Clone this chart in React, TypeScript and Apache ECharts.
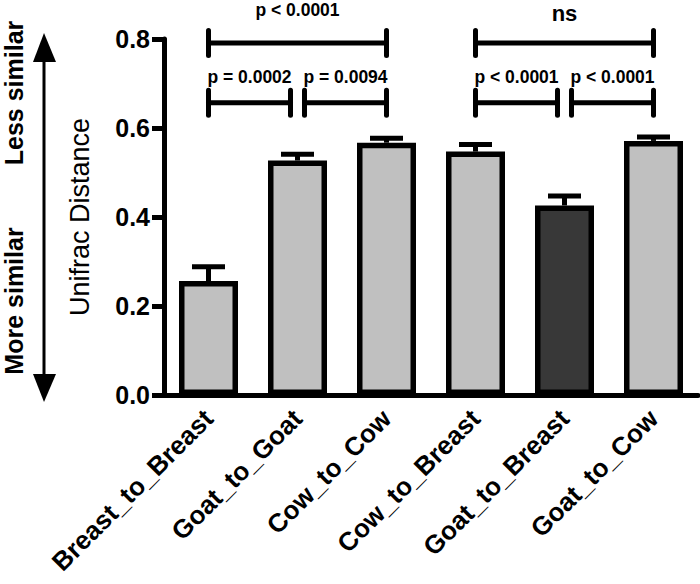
import React, { useEffect, useRef } from 'react';
import * as echarts from 'echarts';

const categories = ['Breast_to_Breast', 'Goat_to_Goat', 'Cow_to_Cow', 'Cow_to_Breast', 'Goat_to_Breast', 'Goat_to_Cow'];
const means = [0.256, 0.527, 0.567, 0.547, 0.426, 0.571];
const errorUpper = [0.288, 0.541, 0.577, 0.563, 0.447, 0.58];
const barColors = ['#c0c0c0', '#c0c0c0', '#c0c0c0', '#c0c0c0', '#383838', '#c0c0c0'];

const yMin = 0;
const yMax = 0.8;
const yInterval = 0.2;

const comparisonFrom = [0, 0, 1, 3, 3, 4];
const comparisonTo = [2, 1, 2, 5, 4, 5];
const comparisonLevel = [0.791, 0.657, 0.657, 0.791, 0.657, 0.657];
const comparisonLabelLevel = [0.865, 0.715, 0.715, 0.858, 0.715, 0.715];
const comparisonLabels = ['p < 0.0001', 'p = 0.0002', 'p = 0.0094', 'ns', 'p < 0.0001', 'p < 0.0001'];
const comparisonFontSize = [17.5, 17.5, 17.5, 22, 17.5, 17.5];

const FONT = '"Liberation Sans", Arial, Helvetica, sans-serif';

export default function App() {
  const ref = useRef<HTMLDivElement>(null);
  useEffect(() => {
    if (!ref.current) return;
    const chart = echarts.init(ref.current, null, { renderer: 'svg' });
    const option: any = {
      animation: false,
      backgroundColor: '#ffffff',
      grid: { left: 164, right: 2, top: 39, bottom: 189, containLabel: false, outerBoundsMode: 'none' },
      xAxis: {
        type: 'category',
        data: categories,
        boundaryGap: true,
        axisLine: { lineStyle: { color: '#000', width: 5 } },
        axisTick: { alignWithLabel: true, length: 12, lineStyle: { color: '#000', width: 5 } },
        axisLabel: {
          rotate: 45,
          interval: 0,
          margin: 19,
          color: '#000',
          fontFamily: FONT,
          fontWeight: 'bold',
          fontSize: 26,
        },
        splitLine: { show: false },
      },
      yAxis: {
        type: 'value',
        min: yMin,
        max: yMax,
        interval: yInterval,
        name: 'Unifrac Distance',
        nameLocation: 'middle',
        nameGap: 71,
        nameTextStyle: { color: '#000', fontFamily: FONT, fontSize: 27, fontWeight: 'normal' },
        axisLine: { show: true, lineStyle: { color: '#000', width: 5 } },
        axisTick: { show: true, length: 12, lineStyle: { color: '#000', width: 5 } },
        axisLabel: {
          margin: 14,
          color: '#000',
          fontFamily: FONT,
          fontWeight: 'bold',
          fontSize: 25,
          formatter: (v: number) => v.toFixed(1),
        },
        splitLine: { show: false },
      },
      graphic: [
        {
          type: 'line',
          shape: { x1: 44, y1: 58, x2: 44, y2: 378 },
          style: { stroke: '#000', lineWidth: 3 },
        },
        {
          type: 'polygon',
          shape: { points: [[44, 33], [33, 62], [56, 62]] },
          style: { fill: '#000' },
        },
        {
          type: 'polygon',
          shape: { points: [[44, 402], [33, 374], [56, 374]] },
          style: { fill: '#000' },
        },
        {
          type: 'text',
          x: 13.5,
          y: 93,
          rotation: Math.PI / 2,
          style: {
            text: 'Less similar',
            fill: '#000',
            font: `bold 25px ${FONT}`,
            textAlign: 'center',
            align: 'center',
            textVerticalAlign: 'middle',
            verticalAlign: 'middle',
          },
        },
        {
          type: 'text',
          x: 13.5,
          y: 301,
          rotation: Math.PI / 2,
          style: {
            text: 'More similar',
            fill: '#000',
            font: `bold 25px ${FONT}`,
            textAlign: 'center',
            align: 'center',
            textVerticalAlign: 'middle',
            verticalAlign: 'middle',
          },
        },
      ],
      series: [
        {
          type: 'custom',
          name: 'error',
          z: 1,
          data: categories.map((c, i) => [i, means[i], errorUpper[i]]),
          encode: { x: 0, y: [1, 2] },
          renderItem: (params: any, api: any) => {
            const i = api.value(0);
            const base = api.coord([i, api.value(1)]);
            const top = api.coord([i, api.value(2)]);
            return {
              type: 'group',
              children: [
                {
                  type: 'line',
                  shape: { x1: base[0], y1: base[1], x2: top[0], y2: top[1] },
                  style: { stroke: '#000', lineWidth: 5 },
                },
                {
                  type: 'line',
                  shape: { x1: top[0] - 16.5, y1: top[1], x2: top[0] + 16.5, y2: top[1] },
                  style: { stroke: '#000', lineWidth: 5 },
                },
              ],
            };
          },
        },
        {
          type: 'bar',
          name: 'mean',
          z: 2,
          barWidth: 59,
          data: means.map((v, i) => ({ value: v, itemStyle: { color: barColors[i] } })),
          itemStyle: { borderColor: '#000', borderWidth: 5.5 },
        },
        {
          type: 'custom',
          name: 'comparisons',
          z: 5,
          clip: false,
          data: comparisonFrom.map((f, k) => [f, comparisonTo[k], comparisonLevel[k], comparisonLabelLevel[k]]),
          encode: { x: [0, 1], y: [2, 3] },
          renderItem: (params: any, api: any) => {
            const k = params.dataIndex;
            const from = api.value(0);
            const to = api.value(1);
            const level = api.value(2);
            const labelLevel = api.value(3);
            const sharedFrom = comparisonFrom.some(
              (f2, j) => j !== k && comparisonLevel[j] === level && comparisonTo[j] === from
            );
            const sharedTo = comparisonFrom.some(
              (f2, j) => j !== k && comparisonLevel[j] === level && f2 === to
            );
            const a = api.coord([from, level]);
            const b = api.coord([to, level]);
            const x1 = a[0] + (sharedFrom ? 7 : 0);
            const x2 = b[0] - (sharedTo ? 7 : 0);
            const y = a[1];
            const ly = api.coord([from, labelLevel])[1];
            const lineStyle = { stroke: '#000', lineWidth: 5, lineCap: 'round' };
            return {
              type: 'group',
              children: [
                { type: 'line', shape: { x1, y1: y, x2, y2: y }, style: lineStyle },
                { type: 'line', shape: { x1, y1: y - 12.5, x2: x1, y2: y + 12.5 }, style: lineStyle },
                { type: 'line', shape: { x1: x2, y1: y - 12.5, x2, y2: y + 12.5 }, style: lineStyle },
                {
                  type: 'text',
                  x: (x1 + x2) / 2,
                  y: ly,
                  style: {
                    text: comparisonLabels[k],
                    fill: '#000',
                    font: `bold ${comparisonFontSize[k]}px ${FONT}`,
                    textAlign: 'center',
                    align: 'center',
                    textVerticalAlign: 'middle',
                    verticalAlign: 'middle',
                  },
                },
              ],
            };
          },
        },
      ],
    };
    chart.setOption(option);
    return () => {
      chart.dispose();
    };
  }, []);
  return <div ref={ref} style={{ position: 'absolute', left: 0, top: 0, width: 700, height: 584 }} />;
}
